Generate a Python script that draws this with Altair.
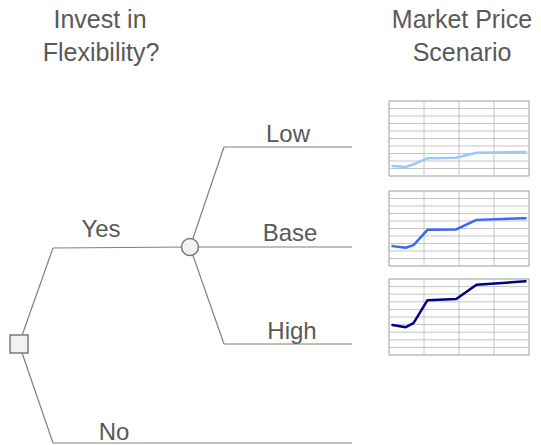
import altair as alt
import pandas as pd

# ---------------- data ----------------
titles = ["Invest in", "Flexibility?", "Market Price", "Scenario"]
decision_labels = ["Yes", "No"]
scenario_labels = ["Low", "Base", "High"]

# price-path series (time 0..20, price index 0..10)
price_t = [0.5, 2.4, 3.5, 5.5, 9.6, 12.5, 19.5]
price_low = [1.33, 1.20, 1.56, 2.36, 2.44, 3.11, 3.20]
price_base = [2.65, 2.43, 2.79, 4.82, 4.87, 6.15, 6.37]
price_high = [3.96, 3.66, 4.19, 7.22, 7.36, 9.25, 9.69]

# ---------------- layout (diagram units) ----------------
W, H = 541, 445
TEXT = "#595959"
LINE = "#808080"
FONT = "Liberation Sans"

dec = (19, 344)          # decision square
chance = (190, 247)      # chance circle
yes_j = (53, 248)
no_j = (53, 443)
low_j = (224, 147)
high_j = (224, 344)
end_x = 352

segments = [
    (dec, yes_j), (yes_j, chance),
    (dec, no_j), (no_j, (end_x, no_j[1])),
    (chance, low_j), (low_j, (end_x, low_j[1])),
    (chance, (end_x, chance[1])),
    (chance, high_j), (high_j, (end_x, high_j[1])),
]
seg_df = pd.DataFrame([{"x": a[0], "y": a[1], "x2": b[0], "y2": b[1]} for a, b in segments])

title_pos = [(100, 28), (101, 61), (462, 28), (462, 61)]
title_df = pd.DataFrame({"text": titles,
                         "x": [p[0] for p in title_pos],
                         "y": [p[1] for p in title_pos]})

label_pos = [(101, 237), (114, 440), (288, 142), (290, 241), (292, 339)]
label_df = pd.DataFrame({"text": decision_labels + scenario_labels,
                         "x": [p[0] for p in label_pos],
                         "y": [p[1] for p in label_pos]})

# mini chart boxes
BX0, BX1 = 389, 529
box_y = {"Low": (101, 176), "Base": (191, 266), "High": (279, 355)}
colors = {"Low": "#99c9ff", "Base": "#3a66fb", "High": "#000080"}
T_MAX, V_MAX = 20.0, 10.0
N_COLS, N_ROWS = 4, 10

box_df = pd.DataFrame([{"s": s, "x": BX0, "x2": BX1, "y": y0, "y2": y1}
                       for s, (y0, y1) in box_y.items()])
grid_rows = []
for s, (y0, y1) in box_y.items():
    for i in range(1, N_COLS):
        gx = BX0 + (BX1 - BX0) * i / N_COLS
        grid_rows.append({"x": gx, "x2": gx, "y": y0, "y2": y1})
    for j in range(1, N_ROWS):
        gy = y0 + (y1 - y0) * j / N_ROWS
        grid_rows.append({"x": BX0, "x2": BX1, "y": gy, "y2": gy})
grid_df = pd.DataFrame(grid_rows)

series = {"Low": price_low, "Base": price_base, "High": price_high}
line_rows = []
for s, vals in series.items():
    for i, (t, v) in enumerate(zip(price_t, vals)):
        line_rows.append({"s": s, "t": t, "v": v, "order": i,
                          "y0": box_y[s][0], "y1": box_y[s][1]})
line_df = pd.DataFrame(line_rows)

# ---------------- chart ----------------
xs = alt.Scale(domain=[0, W], range=[0, W])
ys = alt.Scale(domain=[H, 0])

X = lambda f: alt.X(f, type="quantitative", scale=xs, axis=None)
Y = lambda f: alt.Y(f, type="quantitative", scale=ys, axis=None)

edges = alt.Chart(seg_df).mark_rule(color=LINE, strokeWidth=1.2).encode(
    x=X("x"), y=Y("y"), x2="x2", y2="y2")

square = alt.Chart(pd.DataFrame({"x": [dec[0]], "y": [dec[1]]})).mark_square(
    size=324, fill="#f2f2f2", stroke="#7a7a7a", strokeWidth=1.5, opacity=1
).encode(x=X("x"), y=Y("y"))

circle = alt.Chart(pd.DataFrame({"x": [chance[0]], "y": [chance[1]]})).mark_circle(
    size=290, fill="#f2f2f2", stroke="#7a7a7a", strokeWidth=1.5, opacity=1
).encode(x=X("x"), y=Y("y"))

title_txt = alt.Chart(title_df).mark_text(
    font=FONT, fontSize=25, color=TEXT, align="center", baseline="alphabetic"
).encode(x=X("x"), y=Y("y"), text="text")

label_txt = alt.Chart(label_df).mark_text(
    font=FONT, fontSize=24, color=TEXT, align="center", baseline="alphabetic"
).encode(x=X("x"), y=Y("y"), text="text")

boxes = alt.Chart(box_df).mark_rect(fill="white", stroke="#9a9a9a", strokeWidth=1).encode(
    x=X("x"), x2="x2", y=Y("y"), y2="y2")

grid = alt.Chart(grid_df).mark_rule(color="#c4c4c4", strokeWidth=1).encode(
    x=X("x"), x2="x2", y=Y("y"), y2="y2")

lines = alt.Chart(line_df).transform_calculate(
    px=f"{BX0} + datum.t / {T_MAX} * {BX1 - BX0}",
    py=f"datum.y1 - datum.v / {V_MAX} * (datum.y1 - datum.y0)",
).mark_line(strokeWidth=2.5, strokeJoin="round", strokeCap="round").encode(
    x=X("px"), y=Y("py"), detail="s:N", order="order:Q",
    color=alt.Color("s:N", scale=alt.Scale(domain=list(colors.keys()),
                                           range=list(colors.values())), legend=None),
)

chart = alt.layer(edges, square, circle, boxes, grid, lines, title_txt, label_txt).properties(
    width=W, height=H, autosize=alt.AutoSizeParams(type="none"), padding=0
).configure_view(stroke=None)

chart.save("out.html", embed_options={"renderer": "svg", "actions": False})
